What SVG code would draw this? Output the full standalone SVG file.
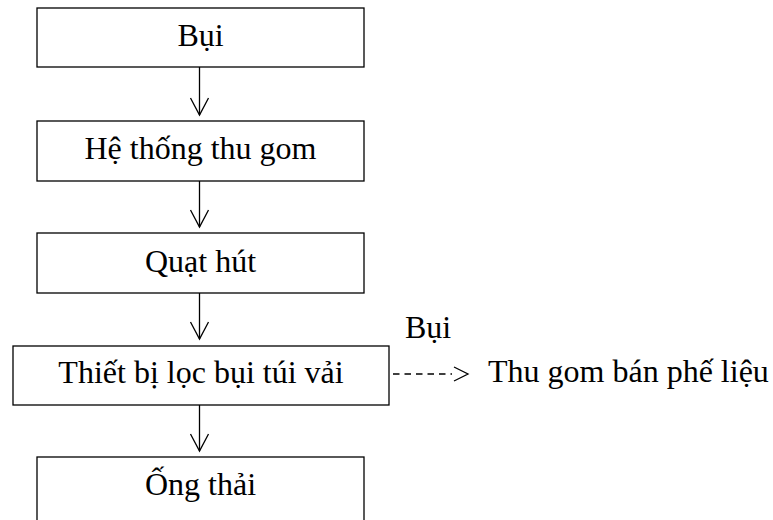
<svg xmlns="http://www.w3.org/2000/svg" width="773" height="520" viewBox="0 0 773 520">
  <style>
    .box rect { fill: #ffffff; stroke: #000000; stroke-width: 1.3; }
    .lbl { font-family: "Liberation Serif", "Times New Roman", serif; font-size: 32px; fill: #000000; }
    .mid { text-anchor: middle; }
    .flow { stroke: #000000; stroke-width: 1.3; fill: none; }
    .dash { stroke-dasharray: 6.5 5; }
  </style>
  <defs>
    <!-- open V arrowhead, tip at the line end -->
    <marker id="vhead" markerUnits="userSpaceOnUse" markerWidth="24" markerHeight="24" viewBox="-20 -12 24 24" refX="0" refY="0" orient="auto">
      <path d="M -17 -9 L 0 0 L -17 9" fill="none" stroke="#000000" stroke-width="1.3"/>
    </marker>
  </defs>

  <rect width="773" height="520" fill="#ffffff"/>

  <!-- process boxes -->
  <g id="bui" class="box">
    <rect x="37" y="8" width="327" height="59"/>
    <text class="lbl mid" x="200.5" y="46">Bụi</text>
  </g>
  <g id="he-thong-thu-gom" class="box">
    <rect x="37" y="121" width="327" height="60"/>
    <text class="lbl mid" x="200.5" y="159">Hệ thống thu gom</text>
  </g>
  <g id="quat-hut" class="box">
    <rect x="37" y="233" width="327" height="60"/>
    <text class="lbl mid" x="200.5" y="272">Quạt hút</text>
  </g>
  <g id="thiet-bi-loc" class="box">
    <rect x="13" y="346" width="376" height="59"/>
    <text class="lbl mid" x="201" y="383">Thiết bị lọc bụi túi vải</text>
  </g>
  <g id="ong-thai" class="box">
    <rect x="37" y="457" width="327" height="70"/>
    <text class="lbl mid" x="200.5" y="495">Ống thải</text>
  </g>

  <!-- side output -->
  <g id="thu-gom-ban">
    <text class="lbl" x="405" y="338">Bụi</text>
    <text class="lbl" x="488" y="382">Thu gom bán phế liệu</text>
  </g>

  <!-- connectors -->
  <g id="connectors">
    <line class="flow" x1="199.5" y1="67" x2="199.5" y2="115" marker-end="url(#vhead)"/>
    <line class="flow" x1="199.5" y1="181" x2="199.5" y2="227" marker-end="url(#vhead)"/>
    <line class="flow" x1="199.5" y1="293" x2="199.5" y2="339" marker-end="url(#vhead)"/>
    <line class="flow" x1="199.5" y1="405" x2="199.5" y2="451" marker-end="url(#vhead)"/>
    <line class="flow dash" x1="393" y1="374" x2="452" y2="374"/>
    <path class="flow" d="M 454 367 L 468 374 L 454 381"/>
  </g>
</svg>
